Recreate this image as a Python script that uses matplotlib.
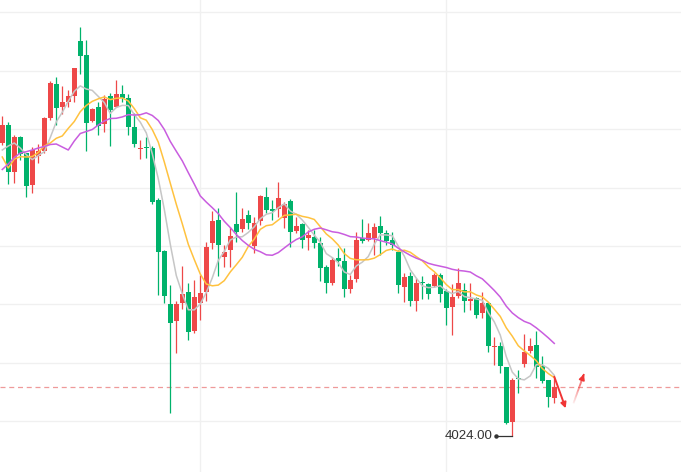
import numpy as np
import pandas as pd
import matplotlib
matplotlib.use('Agg')
import matplotlib.pyplot as plt
from matplotlib.collections import LineCollection

#------------------------------------------------------------------------------
#candles, one value per bar
open_price=[4317.3,4334.7,4288.3,4323.0,4306.7,4275.0,4303.5,4308.5,4342.3,4376.0,
            4352.5,4358.2,4364.0,4419.0,4405.0,4339.0,4352.7,4335.8,4364.0,4353.3,
            4366.0,4361.7,4333.3,4310.7,4313.0,4312.3,4260.0,4209.0,4156.0,4139.3,
            4157.3,4168.0,4129.3,4156.7,4168.3,4217.3,4240.0,4203.0,4210.0,4236.0,
            4231.3,4245.0,4214.0,4239.0,4263.3,4250.7,4250.7,4241.7,4259.0,4229.0,
            4236.3,4222.0,4222.7,4217.3,4192.7,4177.3,4202.0,4199.3,4171.3,4181.0,
            4221.7,4220.0,4222.3,4234.0,4227.3,4220.0,4208.3,4173.3,4184.0,4159.0,
            4178.0,4175.7,4174.2,4185.3,4169.0,4152.7,4164.3,4170.0,4159.3,4161.7,
            4146.7,4156.7,4112.7,4114.0,4093.3,4038.3,4082.3,4096.0,4109.3,4115.0,
            4094.0,4080.0,4061.7]

high_price=[4344.3,4338.5,4325.0,4324.0,4307.0,4313.0,4316.5,4343.5,4379.5,4382.7,
            4373.7,4370.0,4392.5,4433.0,4420.5,4352.0,4358.3,4365.5,4367.5,4380.0,
            4375.0,4365.7,4347.3,4320.0,4322.7,4314.3,4262.0,4210.0,4175.0,4159.0,
            4194.0,4176.7,4180.0,4185.0,4218.3,4249.0,4251.7,4215.0,4233.3,4267.7,
            4251.7,4250.0,4243.3,4265.0,4272.7,4260.0,4278.3,4258.3,4260.7,4243.3,
            4236.7,4230.0,4230.0,4223.3,4195.0,4203.3,4211.7,4211.7,4185.0,4228.3,
            4241.0,4236.7,4236.7,4244.3,4230.0,4228.3,4210.0,4187.0,4188.3,4182.0,
            4184.0,4177.3,4187.3,4186.7,4171.0,4176.0,4191.7,4176.7,4176.7,4163.3,
            4168.3,4158.3,4123.3,4118.3,4093.3,4081.7,4090.0,4126.0,4121.7,4129.0,
            4104.0,4080.0,4083.3]

low_price=[4315.0,4276.0,4276.7,4300.0,4263.5,4267.3,4297.5,4307.0,4340.0,4335.0,
           4346.0,4353.0,4358.3,4386.0,4308.7,4338.5,4324.7,4328.3,4314.0,4353.0,
           4358.3,4325.0,4313.3,4301.3,4301.7,4256.0,4165.0,4157.3,4046.7,4106.7,
           4150.7,4120.0,4127.3,4140.0,4159.0,4210.7,4184.0,4193.0,4193.3,4218.3,
           4228.3,4230.7,4206.7,4235.0,4246.7,4240.0,4243.3,4231.7,4212.7,4226.7,
           4211.7,4210.0,4211.7,4179.5,4167.0,4175.0,4194.0,4163.3,4166.7,4178.3,
           4216.7,4219.3,4205.0,4205.0,4215.0,4210.0,4166.7,4158.0,4154.5,4149.5,
           4161.2,4160.7,4172.7,4158.3,4135.0,4125.0,4161.7,4148.3,4150.0,4141.7,
           4141.7,4108.3,4095.0,4086.7,4036.0,4024.0,4066.7,4093.3,4106.7,4081.7,
           4077.3,4052.7,4057.3]

close_price=[4334.7,4288.3,4323.3,4306.0,4274.3,4310.0,4309.0,4342.3,4377.0,4352.3,
             4358.0,4364.0,4392.0,4404.3,4336.5,4351.2,4334.0,4361.3,4350.0,4366.0,
             4361.7,4333.3,4316.0,4312.3,4312.2,4257.5,4208.3,4163.5,4137.3,4156.0,
             4166.0,4128.3,4163.0,4167.0,4213.3,4239.3,4215.3,4208.3,4224.0,4227.7,
             4241.0,4236.7,4236.7,4264.3,4250.0,4248.7,4261.7,4256.0,4228.3,4234.0,
             4220.0,4225.0,4217.3,4192.3,4177.3,4200.0,4199.0,4171.3,4180.0,4220.0,
             4219.0,4227.0,4232.7,4227.3,4219.3,4215.0,4175.0,4183.0,4159.0,4177.0,
             4176.8,4166.0,4185.0,4166.3,4151.5,4163.3,4176.7,4159.3,4160.7,4145.0,
             4157.3,4114.0,4114.0,4094.0,4037.3,4080.0,4081.0,4108.3,4114.0,4093.3,
             4079.3,4063.3,4073.3]

#moving average values at the left edge, where the window has no history
ma5_head=[4310.0,4314.0,4317.0,4312.0]
ma10_head=[4303.0,4292.0,4301.0,4303.3,4303.0,4303.5,4307.5,4314.0,4317.0]
ma20_head=[4290.5,4296.0,4302.5,4307.0,4308.3,4310.0,4312.0,4313.5,4315.5,4316.0,
           4313.0,4310.0,4319.0,4326.5,4328.5,4330.5,4335.0,4339.0,4341.5]

#hand drawn forecast after the last bar: bars after last, price
forecast_step=[0.0,1.9,3.2,4.95]
forecast_price=[4083.3,4051.7,4056.7,4086.0]

#------------------------------------------------------------------------------
up_color='#ee4848'
down_color='#00b26b'

"""
Moving average with the visible head filled from the chart
"""
def MovingAverage(values,window,head):
    
    ma=pd.Series(values).rolling(window).mean().to_numpy()
    ma[:len(head)]=head
    
    return ma

o=np.array(open_price)
h=np.array(high_price)
l=np.array(low_price)
c=np.array(close_price)

n=len(c)
x=np.arange(n)

fig=plt.figure(figsize=(6.81,4.72),dpi=100)
ax=fig.add_axes([0,0,1,1])

#candles
colors=np.where(c>=o,up_color,down_color)
ax.vlines(x,l,h,colors=colors,linewidth=0.9,zorder=2)
body=np.maximum(np.abs(c-o),1.2)
ax.bar(x,body,bottom=np.minimum(o,c),width=0.78,color=colors,linewidth=0,zorder=3)

#moving averages
ax.plot(x,MovingAverage(c,5,ma5_head),color='#c6c6c6',lw=1.1,zorder=4)
ax.plot(x,MovingAverage(c,10,ma10_head),color='#ffc23f',lw=1.1,zorder=4)
ax.plot(x,MovingAverage(c,20,ma20_head),color='#c95ddf',lw=1.1,zorder=4)

#last price line
ax.axhline(c[-1],color='#ef9a9a',lw=0.9,dashes=(4,3),zorder=1)

#lowest price label
i_low=int(np.argmin(l))
ax.plot([i_low-2.7,i_low],[l[i_low],l[i_low]],color='#333333',lw=0.9,zorder=5)
ax.plot(i_low-2.7,l[i_low],'o',ms=2.2,color='#333333',zorder=5)
ax.text(i_low-3.3,l[i_low],'%.2f'%l[i_low],ha='right',va='center',
        fontsize=9.5,color='#333333',family='Liberation Sans')

#forecast arrows
fx=n-1+np.array(forecast_step)
ax.annotate('',xy=(fx[1],forecast_price[1]),xytext=(fx[0],forecast_price[0]),
            arrowprops=dict(arrowstyle='-|>',color='#f03535',lw=1.4,
                            mutation_scale=8,shrinkA=0,shrinkB=0),zorder=6)

t=np.linspace(0,1,25)
px=fx[2]+(fx[3]-fx[2])*t
py=forecast_price[2]+(forecast_price[3]-forecast_price[2])*t
points=np.array([px,py]).T.reshape(-1,1,2)
segs=np.concatenate([points[:-1],points[1:]],axis=1)
alpha=np.linspace(0.1,1.0,len(segs))
lc=LineCollection(segs,colors=[(0.94,0.21,0.21,a) for a in alpha],linewidths=1.3,zorder=6)
ax.add_collection(lc)
ax.annotate('',xy=(fx[3],forecast_price[3]),xytext=(px[-3],py[-3]),
            arrowprops=dict(arrowstyle='-|>',color='#f03535',lw=1.3,
                            mutation_scale=8,shrinkA=0,shrinkB=0),zorder=6)

#axes frame
ax.set_xlim(-0.38,113.12)
ax.set_ylim(3988,4460)
ax.set_yticks(np.arange(4038.9,4460,58.4))
ax.set_xticks([33,74])
ax.grid(True,color='#f0f0f0',lw=1)
ax.set_axisbelow(True)
ax.tick_params(length=0,labelleft=False,labelbottom=False)
for spine in ax.spines.values():
    spine.set_visible(False)

fig.savefig('out.png',dpi=100)
